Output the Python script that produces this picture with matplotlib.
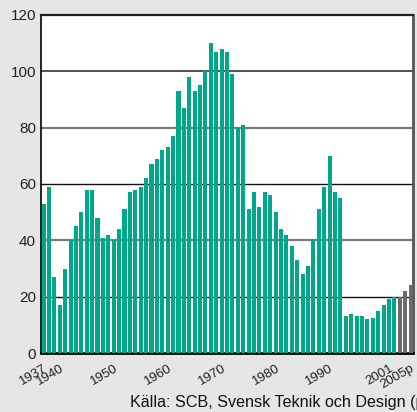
import matplotlib.pyplot as plt
import numpy as np

plt.rcParams['font.family'] = ['Liberation Sans', 'DejaVu Sans']

years = np.arange(1937, 2006)
values = [53, 59, 27, 17, 30, 40, 45, 50, 58, 58,
          48, 41, 42, 40, 44, 51, 57, 58, 59, 62,
          67, 69, 72, 73, 77, 93, 87, 98, 93, 95,
          100, 110, 107, 108, 107, 99, 80, 81, 51, 57,
          52, 57, 56, 50, 44, 42, 38, 33, 28, 31,
          40, 51, 59, 70, 57, 55, 13, 14, 13, 13,
          12, 12.5, 15, 17, 19, 20, 20, 22, 24]
forecast_from = 2003
tick_years = [1937, 1940, 1950, 1960, 1970, 1980, 1990, 2001, 2005]
tick_labels = ['1937', '1940', '1950', '1960', '1970', '1980', '1990', '2001', '2005p']
source = 'Källa: SCB, Svensk Teknik och Design (prognos)'

teal = '#00a88a'
grey = '#6b6b6d'
bg = '#e6e6e6'

fig = plt.figure(figsize=(4.17, 4.12), dpi=100, facecolor=bg)
ax = fig.add_axes([0.0995, 0.1432, 0.8905, 0.8204])
ax.set_facecolor('white')

colors = [grey if y >= forecast_from else teal for y in years]
ax.bar(years, values, width=0.75, color=colors, zorder=3)

# horizontal guide lines, alternating dark and grey
for v, c, lw in [(20, '#111111', 1.0), (40, '#7a7a7a', 1.6), (60, '#111111', 1.0),
                 (80, '#7a7a7a', 1.6), (100, '#333333', 1.2)]:
    ax.axhline(v, color=c, lw=lw, zorder=1)

ax.set_xlim(1936.62, 2005.42)
ax.set_ylim(0, 120)
ax.set_yticks(range(0, 121, 20))
ax.set_xticks(tick_years)
ax.set_xticklabels(tick_labels, rotation=30, ha='right', va='top', rotation_mode='anchor')
ax.tick_params(axis='both', length=0, labelcolor='#222222')
ax.tick_params(axis='x', pad=7, labelsize=9.5)
ax.tick_params(axis='y', pad=4, labelsize=11)

ax.spines['left'].set_color('black')
ax.spines['left'].set_linewidth(1.2)
ax.spines['bottom'].set_color('black')
ax.spines['bottom'].set_linewidth(2)
ax.spines['top'].set_color('#222222')
ax.spines['top'].set_linewidth(1.6)
ax.spines['right'].set_color('#555555')
ax.spines['right'].set_linewidth(2)

fig.text(130 / 417, 1 - 402 / 412, source, fontsize=11.6, color='#111111', va='center', ha='left')

fig.savefig('out.png', dpi=100, facecolor=bg)
